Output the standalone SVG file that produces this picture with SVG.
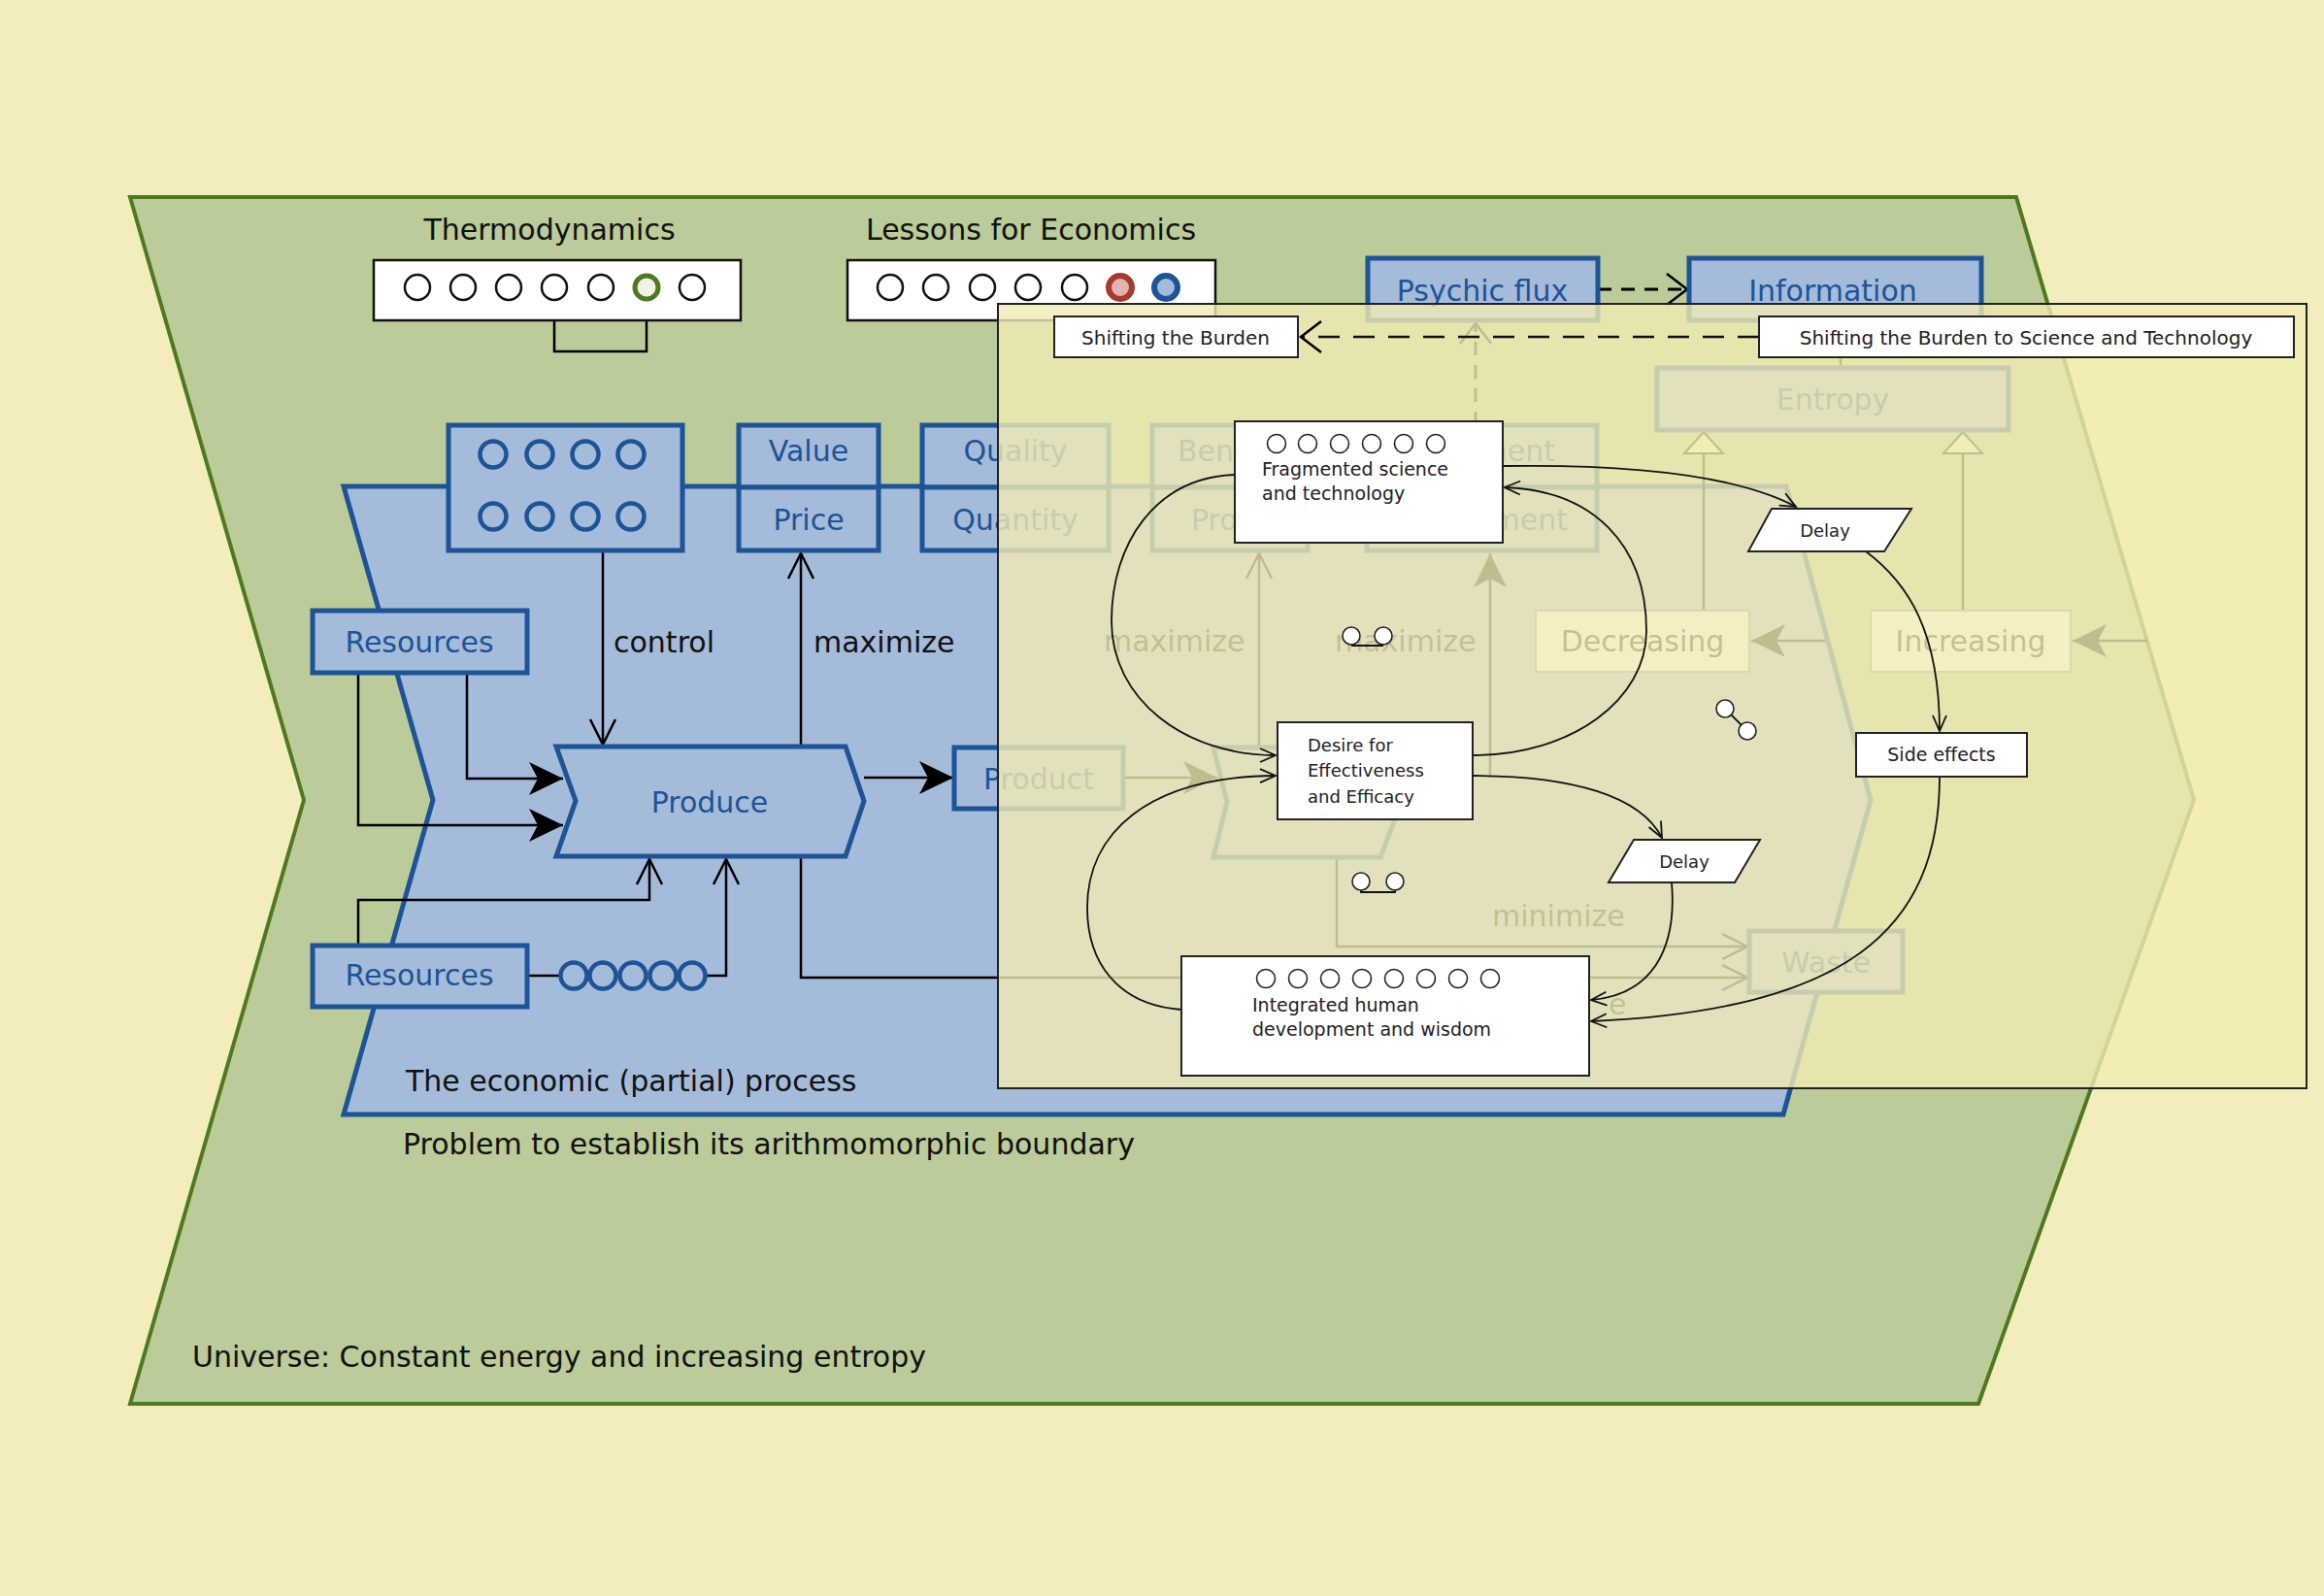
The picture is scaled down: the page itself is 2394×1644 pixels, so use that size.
<svg xmlns="http://www.w3.org/2000/svg" width="2394" height="1644" viewBox="0 0 2394 1644">
<style>
text{font-family:"DejaVu Sans","Liberation Sans",sans-serif}
.t30{font-size:30px;fill:#111}
.bt{font-size:30px;fill:#1c5496}
.bbox{fill:#a5bbda;stroke:#1c5496;stroke-width:5}
.wbox{fill:#fff;stroke:#111;stroke-width:2.5}
.pbox{fill:#fff;stroke:#8a8a8a;stroke-width:2}
.circ{fill:#fff;stroke:#111;stroke-width:2.5}
.bcirc{fill:none;stroke:#1c5496;stroke-width:4.5}
.ln{fill:none;stroke:#000;stroke-width:2.5}
.dash{fill:none;stroke:#000;stroke-width:3;stroke-dasharray:14 10}
.ob{fill:#fff;stroke:#222;stroke-width:2}
.oc{fill:#fff;stroke:#222;stroke-width:1.6}
.cl{fill:none;stroke:#111;stroke-width:1.8}
.st{font-size:19px;fill:#222}
.s18{font-size:18px;fill:#222}
.s20{font-size:20px;fill:#222}
</style>
<defs>
<marker id="mOpen" markerUnits="userSpaceOnUse" markerWidth="30" markerHeight="30" viewBox="0 0 30 30" refX="27" refY="15" orient="auto"><path d="M1,2 L27,15 L1,28" fill="none" stroke="#000" stroke-width="2.5"/></marker>
<marker id="mOpenWide" markerUnits="userSpaceOnUse" markerWidth="26" markerHeight="36" viewBox="0 0 26 36" refX="22" refY="18" orient="auto"><path d="M1,2 L22,18 L1,34" fill="none" stroke="#000" stroke-width="2.5"/></marker>
<marker id="mFill" markerUnits="userSpaceOnUse" markerWidth="36" markerHeight="36" viewBox="0 0 36 36" refX="35" refY="18" orient="auto"><path d="M0,1 L35,18 L0,35 L9,18 Z" fill="#000"/></marker>
<marker id="mSmall" markerUnits="userSpaceOnUse" markerWidth="20" markerHeight="18" viewBox="0 0 20 18" refX="17" refY="9" orient="auto"><path d="M1,2 L17,9 L1,16" fill="none" stroke="#111" stroke-width="1.8"/></marker>
<marker id="mTri" markerUnits="userSpaceOnUse" markerWidth="26" markerHeight="44" viewBox="0 0 26 44" refX="24" refY="22" orient="auto"><path d="M2,2 L24,22 L2,42 Z" fill="#f3edbe" stroke="#000" stroke-width="2"/></marker>
</defs>

<rect x="0" y="0" width="2394" height="1644" fill="#f3edbe"/>

<g id="universe">
<polygon points="134,203 2077,203 2260,824 2038,1446 134,1446 313,824" fill="#bbcb99" stroke="#4e7a1f" stroke-width="4"/>
<text class="t30" x="198" y="1408">Universe:  Constant energy and increasing entropy</text>
</g>

<g id="economic-process">
<polygon points="354,501 1840,501 1927,824 1837,1148 354,1148 446,824" fill="#a5bbda" stroke="#1c5496" stroke-width="5"/>
<text class="t30" x="418" y="1124">The economic (partial) process</text>
<text class="t30" x="415" y="1189">Problem to establish its arithmomorphic boundary</text>
</g>

<g id="connectors-under">
<path class="ln" d="M571,310 V362 H666 V310"/>
<path class="ln" d="M481,693 V802 H580" marker-end="url(#mFill)"/>
<path class="ln" d="M369,693 V850 H580" marker-end="url(#mFill)"/>
<path class="ln" d="M369,974 V927 H669 V885" marker-end="url(#mOpen)"/>
<path class="ln" d="M543,1005 H578"/>
<path class="ln" d="M727,1005 H748 V885" marker-end="url(#mOpen)"/>
<path class="ln" d="M621,567 V767" marker-end="url(#mOpen)"/>
<path class="ln" d="M825,769 V570" marker-end="url(#mOpen)"/>
<path class="ln" d="M825,882 V1007 H1800" marker-end="url(#mOpen)"/>
<path class="ln" d="M890,801 H982" marker-end="url(#mFill)"/>
<path class="ln" d="M1157,801 H1254" marker-end="url(#mFill)"/>
<path class="ln" d="M1297,770 V570" marker-end="url(#mOpen)"/>
<path class="ln" d="M1535,801 V570" marker-end="url(#mFill)"/>
<path class="ln" d="M1377,883 V975 H1800" marker-end="url(#mOpen)"/>
<path class="dash" d="M1520,438 V333" marker-end="url(#mOpenWide)"/>
<path class="dash" d="M1646,298 H1738" marker-end="url(#mOpenWide)"/>
<path class="ln" d="M1896,330 V379"/>
<path class="ln" d="M1755,629 V445" marker-end="url(#mTri)"/>
<path class="ln" d="M2022,629 V445" marker-end="url(#mTri)"/>
<path class="ln" d="M1880,660 H1804" marker-end="url(#mFill)"/>
<path class="ln" d="M2212,660 H2135" marker-end="url(#mFill)"/>
</g>

<g id="thermodynamics">
<text class="t30" x="566" y="247" text-anchor="middle">Thermodynamics</text>
<rect class="wbox" x="385" y="268" width="378" height="62"/>
<circle class="circ" cx="430" cy="296" r="13"/>
<circle class="circ" cx="477" cy="296" r="13"/>
<circle class="circ" cx="524" cy="296" r="13"/>
<circle class="circ" cx="571" cy="296" r="13"/>
<circle class="circ" cx="619" cy="296" r="13"/>
<circle cx="666" cy="296" r="12" fill="#eef3e4" stroke="#4e7a1f" stroke-width="5"/>
<circle class="circ" cx="713" cy="296" r="13"/>
</g>

<g id="lessons">
<text class="t30" x="1062" y="247" text-anchor="middle">Lessons for Economics</text>
<rect class="wbox" x="873" y="268" width="379" height="62"/>
<circle class="circ" cx="917" cy="296" r="13"/>
<circle class="circ" cx="964" cy="296" r="13"/>
<circle class="circ" cx="1012" cy="296" r="13"/>
<circle class="circ" cx="1059" cy="296" r="13"/>
<circle class="circ" cx="1107" cy="296" r="13"/>
<circle cx="1154" cy="296" r="12" fill="#e2b4b0" stroke="#a63a30" stroke-width="6"/>
<circle cx="1201" cy="296" r="12" fill="#a5bbda" stroke="#1c5496" stroke-width="6"/>
</g>

<g id="circles-box">
<rect class="bbox" x="462" y="438" width="241" height="129"/>
<circle class="bcirc" cx="508" cy="468" r="13.5"/>
<circle class="bcirc" cx="556" cy="468" r="13.5"/>
<circle class="bcirc" cx="603" cy="468" r="13.5"/>
<circle class="bcirc" cx="650" cy="468" r="13.5"/>
<circle class="bcirc" cx="508" cy="532" r="13.5"/>
<circle class="bcirc" cx="556" cy="532" r="13.5"/>
<circle class="bcirc" cx="603" cy="532" r="13.5"/>
<circle class="bcirc" cx="650" cy="532" r="13.5"/>
</g>

<g id="value-price">
<rect class="bbox" x="761" y="438" width="144" height="64"/>
<rect class="bbox" x="761" y="502" width="144" height="65"/>
<text class="bt" x="833" y="475" text-anchor="middle">Value</text>
<text class="bt" x="833" y="546" text-anchor="middle">Price</text>
</g>

<g id="quality-quantity">
<rect class="bbox" x="950" y="438" width="192" height="64"/>
<rect class="bbox" x="950" y="502" width="192" height="65"/>
<text class="bt" x="1046" y="475" text-anchor="middle">Quality</text>
<text class="bt" x="1046" y="546" text-anchor="middle">Quantity</text>
</g>

<g id="benefit-profit">
<rect class="bbox" x="1187" y="438" width="160" height="64"/>
<rect class="bbox" x="1187" y="502" width="160" height="65"/>
<text class="bt" x="1213" y="475">Ben</text>
<text class="bt" x="1227" y="546">Pro</text>
</g>

<g id="ment-boxes">
<rect class="bbox" x="1408" y="438" width="237" height="64"/>
<rect class="bbox" x="1408" y="502" width="237" height="65"/>
<text class="bt" x="1602" y="475" text-anchor="end">ment</text>
<text class="bt" x="1615" y="546" text-anchor="end">ment</text>
</g>

<g id="psychic-flux">
<rect class="bbox" x="1409" y="266" width="237" height="64"/>
<text class="bt" x="1527" y="310" text-anchor="middle">Psychic flux</text>
</g>

<g id="information">
<rect class="bbox" x="1740" y="266" width="301" height="64"/>
<text class="bt" x="1888" y="310" text-anchor="middle">Information</text>
</g>

<g id="entropy">
<rect class="bbox" x="1707" y="379" width="362" height="64"/>
<text class="bt" x="1888" y="422" text-anchor="middle">Entropy</text>
</g>

<g id="decreasing">
<rect class="pbox" x="1582" y="629" width="220" height="63"/>
<text class="t30" x="1692" y="671" text-anchor="middle" fill="#222">Decreasing</text>
</g>

<g id="increasing">
<rect class="pbox" x="1927" y="629" width="206" height="63"/>
<text class="t30" x="2030" y="671" text-anchor="middle" fill="#222">Increasing</text>
</g>

<g id="resources-1">
<rect class="bbox" x="322" y="629" width="221" height="64"/>
<text class="bt" x="432" y="672" text-anchor="middle">Resources</text>
</g>

<g id="resources-2">
<rect class="bbox" x="322" y="974" width="221" height="63"/>
<text class="bt" x="432" y="1015" text-anchor="middle">Resources</text>
<circle class="bcirc" cx="591" cy="1005" r="13.5"/>
<circle class="bcirc" cx="621" cy="1005" r="13.5"/>
<circle class="bcirc" cx="652" cy="1005" r="13.5"/>
<circle class="bcirc" cx="683" cy="1005" r="13.5"/>
<circle class="bcirc" cx="713" cy="1005" r="13.5"/>
</g>

<g id="produce">
<polygon class="bbox" points="573,769 871,769 890,825 871,882 573,882 593,825"/>
<text class="bt" x="731" y="837" text-anchor="middle">Produce</text>
</g>

<g id="product">
<rect class="bbox" x="983" y="770" width="174" height="63"/>
<text class="bt" x="1070" y="813" text-anchor="middle">Product</text>
</g>

<g id="process-2">
<polygon class="bbox" points="1250,770 1422,770 1444,826 1422,883 1250,883 1264,826"/>
</g>

<g id="waste">
<rect class="bbox" x="1802" y="959" width="158" height="63"/>
<text class="bt" x="1881" y="1002" text-anchor="middle">Waste</text>
</g>

<g id="labels-under">
<text class="t30" x="632" y="672">control</text>
<text class="t30" x="838" y="672">maximize</text>
<text class="t30" x="1137" y="671">maximize</text>
<text class="t30" x="1375" y="671">maximize</text>
<text class="t30" x="1537" y="954">minimize</text>
<text class="t30" x="1657" y="1045">e</text>
</g>

<g id="overlay-panel">
<rect x="1028" y="313" width="1348" height="808" fill="#f1ebb3" fill-opacity="0.8" stroke="#222" stroke-width="2"/>
</g>

<g id="connectors-over">
<path d="M1812,347 H1340" fill="none" stroke="#111" stroke-width="2.5" stroke-dasharray="22 14" marker-end="url(#mOpenWide)"/>
<path class="cl" d="M1272,489 C1190,492 1145,560 1145,640 C1145,720 1220,778 1314,778" marker-end="url(#mSmall)"/>
<path class="cl" d="M1517,778 C1620,778 1696,720 1696,650 C1696,560 1640,505 1550,502" marker-end="url(#mSmall)"/>
<path class="cl" d="M1548,480 C1680,478 1790,490 1850,522" marker-end="url(#mSmall)"/>
<path class="cl" d="M1922,568 C1965,600 1998,650 1998,753" marker-end="url(#mSmall)"/>
<path class="cl" d="M1998,800 C1998,960 1900,1040 1639,1052" marker-end="url(#mSmall)"/>
<path class="cl" d="M1517,799 C1620,799 1690,820 1712,863" marker-end="url(#mSmall)"/>
<path class="cl" d="M1722,909 C1728,980 1700,1025 1639,1030" marker-end="url(#mSmall)"/>
<path class="cl" d="M1217,1040 C1150,1035 1120,990 1120,935 C1120,860 1180,800 1314,799" marker-end="url(#mSmall)"/>
<path class="cl" d="M1392,665 H1425"/>
<path class="cl" d="M1402,917 V919 H1437 V917"/>
<path class="cl" d="M1777,730 L1800,753"/>
</g>

<g id="link-pairs">
<circle class="oc" cx="1392" cy="655" r="9"/>
<circle class="oc" cx="1425" cy="655" r="9"/>
<circle class="oc" cx="1402" cy="908" r="9"/>
<circle class="oc" cx="1437" cy="908" r="9"/>
<circle class="oc" cx="1777" cy="730" r="9"/>
<circle class="oc" cx="1800" cy="753" r="9"/>
</g>

<g id="shifting-the-burden">
<rect class="ob" x="1086" y="326" width="251" height="42"/>
<text class="s20" x="1211" y="355" text-anchor="middle">Shifting the Burden</text>
</g>

<g id="shifting-to-science">
<rect class="ob" x="1812" y="326" width="551" height="42"/>
<text class="s20" x="2087" y="355" text-anchor="middle">Shifting the Burden to Science and Technology</text>
</g>

<g id="fragmented-science">
<rect class="ob" x="1272" y="434" width="276" height="125"/>
<circle class="oc" cx="1315" cy="457" r="9.5"/>
<circle class="oc" cx="1347" cy="457" r="9.5"/>
<circle class="oc" cx="1380" cy="457" r="9.5"/>
<circle class="oc" cx="1413" cy="457" r="9.5"/>
<circle class="oc" cx="1446" cy="457" r="9.5"/>
<circle class="oc" cx="1479" cy="457" r="9.5"/>
<text class="st" x="1300" y="490">Fragmented science</text>
<text class="st" x="1300" y="515">and technology</text>
</g>

<g id="desire">
<rect class="ob" x="1316" y="744" width="201" height="100"/>
<text class="s18" x="1347" y="774">Desire for</text>
<text class="s18" x="1347" y="800">Effectiveness</text>
<text class="s18" x="1347" y="827">and Efficacy</text>
</g>

<g id="integrated-human">
<rect class="ob" x="1217" y="985" width="420" height="123"/>
<circle class="oc" cx="1304" cy="1008" r="9.5"/>
<circle class="oc" cx="1337" cy="1008" r="9.5"/>
<circle class="oc" cx="1370" cy="1008" r="9.5"/>
<circle class="oc" cx="1403" cy="1008" r="9.5"/>
<circle class="oc" cx="1436" cy="1008" r="9.5"/>
<circle class="oc" cx="1469" cy="1008" r="9.5"/>
<circle class="oc" cx="1502" cy="1008" r="9.5"/>
<circle class="oc" cx="1535" cy="1008" r="9.5"/>
<text class="st" x="1290" y="1042">Integrated human</text>
<text class="st" x="1290" y="1067">development and wisdom</text>
</g>

<g id="delay-1">
<polygon class="ob" points="1825,524 1969,524 1941,568 1801,568"/>
<text class="s18" x="1880" y="553" text-anchor="middle">Delay</text>
</g>

<g id="delay-2">
<polygon class="ob" points="1683,865 1813,865 1787,909 1657,909"/>
<text class="s18" x="1735" y="894" text-anchor="middle">Delay</text>
</g>

<g id="side-effects">
<rect class="ob" x="1912" y="755" width="176" height="45"/>
<text class="st" x="2000" y="784" text-anchor="middle">Side effects</text>
</g>
</svg>
